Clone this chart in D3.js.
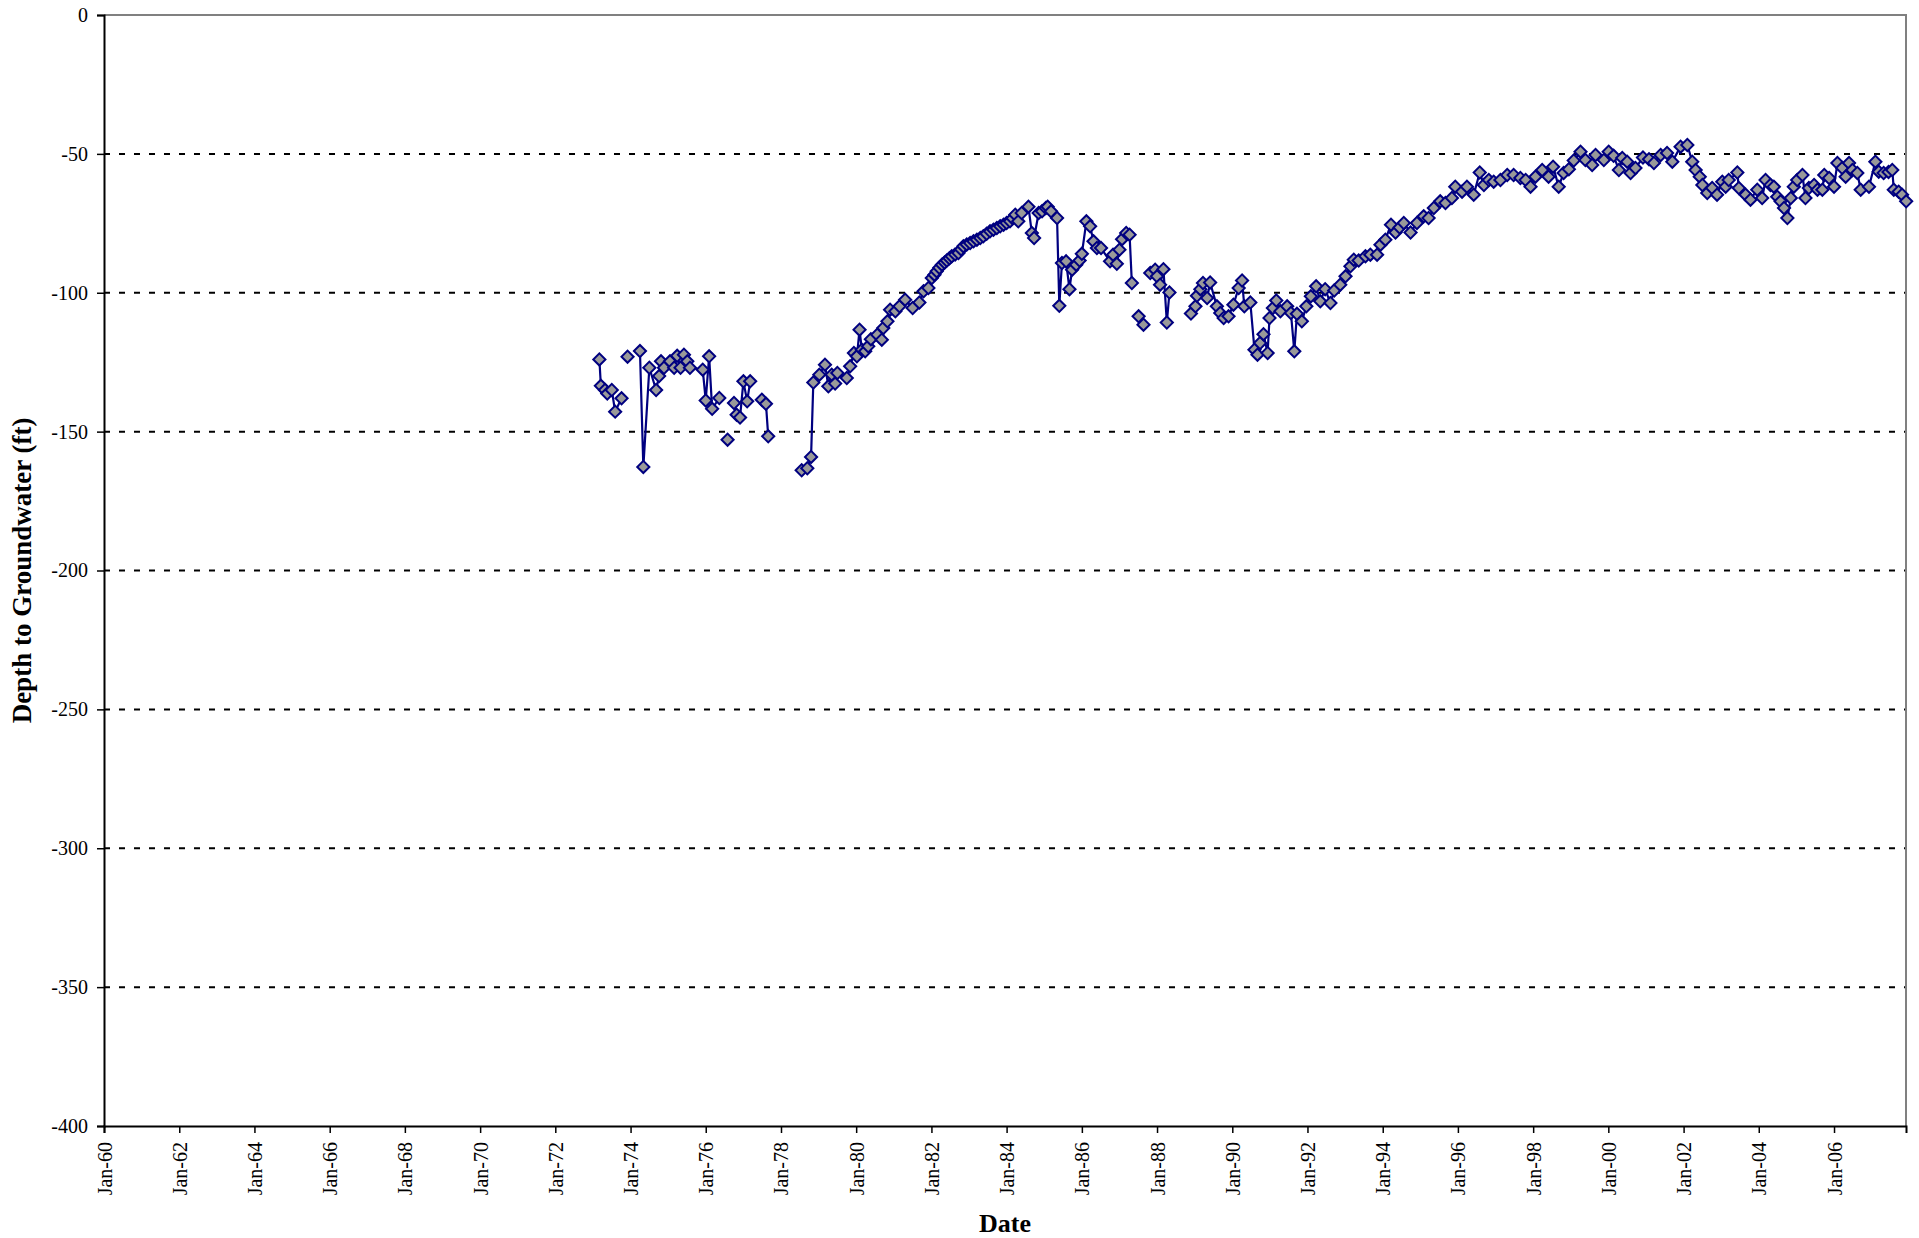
<!DOCTYPE html>
<html>
<head>
<meta charset="utf-8">
<script src="https://cdn.jsdelivr.net/npm/d3@7"></script>
<style>
  html, body { margin: 0; padding: 0; background: #fff; }
  svg { display: block; }
  text { font-family: "Liberation Serif", "Times New Roman", serif; fill: #000; }
</style>
</head>
<body>
<svg id="chart" width="1919" height="1238"></svg>
<script>
// ---- Data (decimal year of measurement, depth in ft; null = break in record) ----
const years = [
  1973.17, 1973.21, 1973.32, 1973.38, 1973.50, 1973.59, 1973.76, 1973.84,
  1973.92, 1974.10,
  1974.25, 1974.34, 1974.50, 1974.68, 1974.76, 1974.81, 1974.89, 1975.05, 1975.16, 1975.24,
  1975.33, 1975.42, 1975.51, 1975.58, 1975.92, 1976.00, 1976.09, 1976.17, 1976.36, 1976.47,
  1976.58, 1976.66,
  1976.75, 1976.82, 1976.91, 1977.00, 1977.10, 1977.18, 1977.33,
  1977.49, 1977.60, 1977.66, 1978.10,
  1978.55, 1978.70, 1978.80, 1978.86, 1979.02, 1979.17, 1979.26, 1979.35, 1979.44, 1979.50,
  1979.75, 1979.84, 1979.94, 1980.02, 1980.09, 1980.15, 1980.24, 1980.32, 1980.39, 1980.56,
  1980.68, 1980.72, 1980.83, 1980.90, 1981.04, 1981.15, 1981.30, 1981.50, 1981.68, 1981.79,
  1981.92, 1982.01, 1982.08, 1982.14, 1982.21, 1982.28, 1982.35, 1982.41, 1982.48, 1982.54,
  1982.63, 1982.72, 1982.79, 1982.85, 1982.94, 1983.03, 1983.12, 1983.21, 1983.30, 1983.38,
  1983.47, 1983.56, 1983.65, 1983.74, 1983.83, 1983.92, 1984.00, 1984.09, 1984.16, 1984.23,
  1984.31, 1984.40, 1984.58, 1984.67, 1984.73, 1984.85, 1984.94, 1985.04, 1985.09, 1985.18,
  1985.34, 1985.40, 1985.47, 1985.58, 1985.67, 1985.74, 1985.85, 1985.94, 1986.00, 1986.12,
  1986.22, 1986.31, 1986.40, 1986.51, 1986.75, 1986.83, 1986.93, 1987.00, 1987.07, 1987.18,
  1987.27, 1987.33, 1987.42,
  1987.51, 1987.64, 1987.73,
  1987.82, 1987.95, 1988.00, 1988.08, 1988.17, 1988.26, 1988.33, 1988.60,
  1988.90, 1989.02, 1989.06, 1989.15, 1989.22, 1989.33, 1989.41, 1989.59, 1989.68, 1989.77,
  1989.90, 1990.03, 1990.17, 1990.26, 1990.32, 1990.48, 1990.59, 1990.67, 1990.74, 1990.83,
  1990.94, 1990.99, 1991.08, 1991.17, 1991.28, 1991.46, 1991.56, 1991.65, 1991.72, 1991.85,
  1991.97, 1992.09, 1992.23, 1992.34, 1992.47, 1992.61, 1992.71, 1992.87, 1993.01, 1993.14,
  1993.23, 1993.36, 1993.54, 1993.67, 1993.85, 1993.94, 1994.07, 1994.22, 1994.34, 1994.45,
  1994.56, 1994.74, 1994.91, 1995.09, 1995.22, 1995.36, 1995.53, 1995.67, 1995.84, 1995.93,
  1996.11, 1996.24, 1996.42, 1996.58, 1996.69, 1996.82, 1996.95, 1997.13, 1997.31, 1997.48,
  1997.66, 1997.80, 1997.93, 1998.06, 1998.24, 1998.41, 1998.53, 1998.68, 1998.81, 1998.95,
  1999.08, 1999.26, 1999.39, 1999.57, 1999.66, 1999.88, 2000.01, 2000.14, 2000.28, 2000.37,
  2000.50, 2000.59, 2000.72, 2000.92, 2001.08, 2001.21, 2001.39, 2001.56, 2001.70, 2001.92,
  2002.10, 2002.23, 2002.32, 2002.43, 2002.50, 2002.63, 2002.76, 2002.89, 2003.03, 2003.12,
  2003.20, 2003.43, 2003.47, 2003.65, 2003.78, 2003.96, 2004.09, 2004.18, 2004.31, 2004.40,
  2004.49, 2004.58, 2004.67, 2004.76, 2004.85, 2004.93, 2005.02, 2005.16, 2005.24, 2005.33,
  2005.47, 2005.56, 2005.69, 2005.74, 2005.87, 2006.00, 2006.09, 2006.22, 2006.31, 2006.40,
  2006.49, 2006.62, 2006.71, 2006.93, 2007.10, 2007.19, 2007.32, 2007.45, 2007.55, 2007.59,
  2007.72, 2007.81, 2007.92
];
const depths = [
  -124.0, -133.5, -135.0, -136.3, -135.0, -142.8, -138.0, null,
  -123.0, null,
  -121.0, -162.7, -127.0, -135.0, -130.0, -124.7, -127.0, -124.7, -127.0, -122.7,
  -127.0, -122.3, -124.7, -127.0, -127.7, -138.8, -122.9, -141.8, -137.9, null,
  -152.9, null,
  -139.7, -143.9, -144.9, -131.9, -139.1, -131.9, null,
  -138.5, -140.0, -151.7, null,
  -163.9, -163.2, -159.1, -132.3, -129.5, -125.9, -133.7, -129.5, -132.7, -128.9,
  -130.7, -126.5, -121.7, -122.9, -113.3, -120.5, -121.1, -119.3, -116.7, -115.1,
  -116.9, -112.7, -110.3, -106.1, -106.7, -104.9, -102.5, -105.5, -103.5, -99.5,
  -98.3, -94.7, -93.5, -92.3, -91.0, -89.9, -89.1, -88.4, -87.6, -86.9,
  -86.2, -85.7, -84.4, -83.3, -82.6, -82.1, -81.5, -80.9, -80.3, -79.7,
  -78.8, -77.9, -77.3, -76.7, -76.1, -75.5, -74.9, -74.3, -73.2, -71.9,
  -74.3, -71.3, -69.0, -78.5, -80.3, -71.3, -70.7, -69.5, -69.0, -70.7,
  -73.1, -104.7, -89.3, -88.7, -98.7, -91.7, -89.9, -88.4, -86.0, -74.3,
  -76.1, -81.5, -83.9, -83.9, -88.7, -86.3, -89.6, -84.5, -80.7, -78.5,
  -79.1, -96.5, null,
  -108.5, -111.5, null,
  -92.9, -91.7, -94.1, -97.1, -91.5, -110.7, -99.9, null,
  -107.5, -104.9, -101.1, -98.7, -96.5, -101.9, -96.3, -104.9, -107.3, -109.1,
  -108.5, -104.3, -98.3, -95.6, -104.9, -103.5, -120.5, -122.3, -118.1, -114.9,
  -121.7, -109.1, -105.5, -102.8, -106.7, -104.9, -107.3, -121.1, -107.6, -110.3,
  -104.9, -101.3, -97.7, -103.1, -98.7, -103.7, -99.2, -97.1, -94.1, -90.5,
  -88.1, -88.4, -86.9, -86.3, -86.3, -82.7, -80.9, -75.5, -78.3, -76.5,
  -74.9, -78.3, -74.9, -72.5, -73.1, -69.5, -67.1, -67.7, -65.9, -61.8,
  -63.6, -61.8, -64.7, -56.7, -61.2, -59.4, -60.0, -59.4, -57.6, -57.6,
  -58.7, -59.4, -61.8, -58.2, -55.8, -58.2, -54.6, -61.8, -56.9, -55.5,
  -52.4, -49.2, -52.2, -54.0, -50.4, -52.2, -49.2, -50.7, -55.8, -51.5,
  -52.8, -56.9, -55.1, -51.3, -51.9, -53.3, -50.4, -49.7, -52.8, -47.4,
  -46.8, -52.8, -55.8, -58.2, -61.2, -64.1, -62.3, -64.7, -60.0, -61.8,
  -59.4, -56.7, -62.3, -64.7, -66.5, -62.9, -65.9, -59.4, -61.2, -61.8,
  -65.4, -67.1, -69.5, -73.1, -65.9, -61.8, -59.4, -57.6, -65.9, -62.3,
  -61.2, -62.9, -62.9, -57.6, -58.7, -61.8, -53.3, -55.1, -58.2, -53.3,
  -55.8, -56.9, -62.9, -61.8, -52.8, -56.4, -56.9, -56.5, -55.8, -62.9,
  -63.6, -64.7, -67.1
];
const yTicks = [0, -50, -100, -150, -200, -250, -300, -350, -400];
const xTickYears = [1960, 1962, 1964, 1966, 1968, 1970, 1972, 1974, 1976, 1978, 1980, 1982,
                    1984, 1986, 1988, 1990, 1992, 1994, 1996, 1998, 2000, 2002, 2004, 2006];
const xLabel = "Date";
const yLabel = "Depth to Groundwater (ft)";

// ---- helpers ----
function yearToDate(y) {
  const yr = Math.floor(y);
  const a = new Date(yr, 0, 1), b = new Date(yr + 1, 0, 1);
  return new Date(+a + (y - yr) * (b - a));
}
const data = years.map((y, i) => ({ date: yearToDate(y), v: depths[i] }));

// ---- layout ----
const svg = d3.select("#chart");
const L = 104, R = 1906, T = 15, B = 1126;

const x = d3.scaleTime()
  .domain([new Date(1960, 0, 1), new Date(2007, 11, 1)])
  .range([L, R]);
const y = d3.scaleLinear().domain([-400, 0]).range([B, T]);

// gridlines
svg.append("g").selectAll("line")
  .data(yTicks.filter(d => d !== 0 && d !== -400))
  .join("line")
  .attr("x1", L).attr("x2", R)
  .attr("y1", d => y(d)).attr("y2", d => y(d))
  .attr("stroke", "#000").attr("stroke-width", 2)
  .attr("stroke-dasharray", "6,9");

// plot border top and right (gray)
svg.append("path")
  .attr("d", `M${L},${y(0)}H${R}V${B}`)
  .attr("fill", "none").attr("stroke", "#808080").attr("stroke-width", 2);

// y axis
const yAxis = d3.axisLeft(y).tickValues(yTicks).tickSize(7).tickPadding(9)
  .tickFormat(d => String(d));
const gy = svg.append("g").attr("transform", `translate(${L},0)`).call(yAxis);
gy.select(".domain").attr("stroke", "#000").attr("stroke-width", 2);
gy.selectAll(".tick line").attr("stroke", "#000").attr("stroke-width", 1.5);
gy.selectAll(".tick text")
  .style("font-family", '"Liberation Serif", serif')
  .style("font-size", "20px").attr("fill", "#000");

// x axis
const xAxis = d3.axisBottom(x)
  .tickValues(xTickYears.map(yr => new Date(yr, 0, 1)))
  .tickSize(7).tickFormat(d3.timeFormat("%b-%y"));
const gx = svg.append("g").attr("transform", `translate(0,${B})`).call(xAxis);
gx.select(".domain").attr("stroke", "#000").attr("stroke-width", 2);
gx.selectAll(".tick line").attr("stroke", "#000").attr("stroke-width", 1.5);
gx.selectAll(".tick text")
  .style("font-family", '"Liberation Serif", serif')
  .style("font-size", "20px").attr("fill", "#000")
  .attr("transform", "rotate(-90)")
  .attr("text-anchor", "end")
  .attr("x", -16).attr("y", 0).attr("dy", "0.35em");

// axis titles
svg.append("text")
  .attr("x", (L + R) / 2).attr("y", 1232)
  .attr("text-anchor", "middle")
  .style("font-size", "26px").style("font-weight", "bold")
  .text(xLabel);
svg.append("text")
  .attr("transform", `translate(31,${(T + B) / 2}) rotate(-90)`)
  .attr("text-anchor", "middle")
  .style("font-size", "27px").style("font-weight", "bold")
  .text(yLabel);

// series line
const line = d3.line()
  .defined(d => d.v !== null)
  .x(d => x(d.date)).y(d => y(d.v));
svg.append("path")
  .datum(data)
  .attr("d", line)
  .attr("fill", "none")
  .attr("stroke", "#000080")
  .attr("stroke-width", 2.2)
  .attr("stroke-linejoin", "round");

// markers (diamonds)
const sym = d3.symbol().type(d3.symbolSquare).size(74);
svg.append("g").selectAll("path")
  .data(data.filter(d => d.v !== null))
  .join("path")
  .attr("d", sym)
  .attr("transform", d => `translate(${x(d.date)},${y(d.v)}) rotate(45)`)
  .attr("fill", "#999999")
  .attr("stroke", "#000080")
  .attr("stroke-width", 2);
</script>
</body>
</html>
